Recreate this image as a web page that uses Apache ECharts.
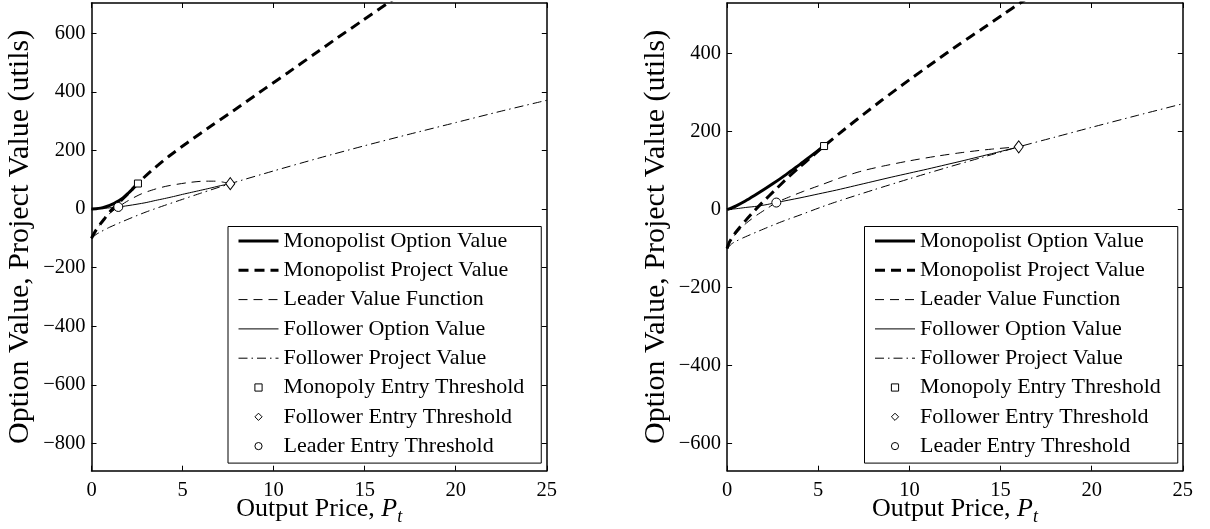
<!DOCTYPE html>
<html><head><meta charset="utf-8">
<script src="https://cdn.jsdelivr.net/npm/echarts@6/dist/echarts.min.js"></script>
<style>html,body{margin:0;padding:0;background:#fff}#c{width:1210px;height:529px}</style>
</head><body><div id="c"></div><script>
// ---------- data ----------
const seriesNames = ['Monopolist Option Value','Monopolist Project Value','Leader Value Function','Follower Option Value','Follower Project Value','Monopoly Entry Threshold','Follower Entry Threshold','Leader Entry Threshold'];
const xTicks = [0,5,10,15,20,25];
const yTicksLeft = [-800,-600,-400,-200,0,200,400,600];
const yTicksRight = [-600,-400,-200,0,200,400];
const yRangeLeft = [-893, 703];
const yRangeRight = [-670, 530];
const xLabel = 'Output Price, ';
const yLabel = 'Option Value, Project Value (utils)';

// left panel
const monoOptL = [[0,0],[0.25,0.8],[0.5,3],[0.75,7],[1,12.5],[1.25,19.5],[1.5,28],[1.75,39],[2,53],[2.25,68],[2.55,87]];
const monoProjL = [[0,-100],[0.1,-88],[0.25,-72],[0.5,-50],[0.75,-30],[1,-10],[1.5,21],[2,52],[2.55,88],[3.3,131],[4.25,180],[5.3,228],[6.7,289],[8.2,353],[9.5,410],[10.8,466],[12.2,527],[13.5,584],[14.9,644],[16.3,704],[17,734]];
const leaderL = [[0,-100],[0.1,-88],[0.25,-72],[0.5,-51],[0.75,-32],[1,-15],[1.25,-3],[1.47,7],[2,28],[2.75,52],[3.5,68],[4.2,79],[5.3,90],[6.2,95],[6.8,95],[7.2,92],[7.62,86.5]];
const followerOptL = [[0,0],[0.5,1.5],[1,4],[1.47,7],[2,11.5],[2.5,16.5],[3,22],[3.5,29],[4,35.5],[4.5,42.5],[5,50],[5.5,57],[6,64],[6.5,71],[7,78.5],[7.62,86.5]];
const followerProjL = [[0,-100],[0.25,-87],[0.5,-78],[1,-62],[2,-35],[3,-10],[4,12],[5,33],[6,54],[7.62,86.5],[10,130],[12.5,174],[15,216],[17.5,256],[20,295],[22.5,334],[25,371]];
const monoEntryL = [[2.55,87]];
const followerEntryL = [[7.62,86.5]];
const leaderEntryL = [[1.47,7]];

// right panel
const monoOptR = [[0,0],[0.25,4.2],[0.5,9.6],[1,22],[1.5,36],[2,50.6],[2.5,66],[3,82],[3.5,99],[4,116],[4.5,134],[5.32,163]];
const monoProjR = [[0,-100],[0.1,-86],[0.25,-74],[0.5,-57],[1,-29],[1.5,-3],[2,21],[2.65,51],[3.38,84],[4,110],[4.6,134],[5.32,163],[6.5,208],[7.5,245],[8.5,281],[10,333],[11.4,380],[12.7,423],[14,464],[15.1,499],[16.2,534],[17,558]];
const leaderR = [[0,-100],[0.1,-87],[0.25,-76],[0.5,-61],[1,-37],[1.64,-14],[2.2,3],[2.7,18],[3.5,34],[4.2,47],[5.2,64],[6.3,83],[7.4,99],[8.5,111],[10,125],[11.5,137],[13,147],[14.5,155],[16,161]];
const followerOptR = [[0,0],[0.5,2.2],[1,5.3],[1.64,8.5],[2.2,13],[2.7,18],[4,30],[5,40],[6,50],[7,61],[8,72],[9,83],[10,93.5],[11,104],[12,115],[13,126],[14,137.5],[15,149],[16,161]];
const followerProjR = [[0,-100],[0.25,-88],[0.5,-81],[1,-70],[2,-50],[3,-31],[4,-14],[5.2,7],[6,20],[8,50],[10,79],[12,107],[14,134],[16,161],[18,186],[20,211],[22.5,241.5],[25,271.5]];
const monoEntryR = [[5.32,163]];
const followerEntryR = [[16.0,161]];
const leaderEntryR = [[2.70,18]];

// ---------- chart ----------
const FONT = 'Liberation Serif, serif';
const BLACK = '#000';
function fmt(v){ return String(v).replace('-', '\u2212'); }

const grids = [
  {left:91.5, top:3, width:455.3, height:467.7, outerBoundsMode:'none', containLabel:false},
  {left:727.1, top:3, width:455.7, height:467.7, outerBoundsMode:'none', containLabel:false}
];

function xAxes(i){
  const line = {onZero:false, lineStyle:{color:BLACK, width:1.5}};
  const tick = {inside:true, length:5, lineStyle:{color:BLACK, width:1}};
  return [
    {type:'value', gridIndex:i, position:'bottom', min:xTicks[0], max:xTicks[xTicks.length-1], interval:5,
     axisLine:line, axisTick:tick, splitLine:{show:false},
     axisLabel:{color:BLACK, fontFamily:FONT, fontSize:20.5, margin:9},
     name:'{a|' + xLabel + '}{i|P}{s|t}', nameLocation:'middle', nameGap:24, nameMoveOverlap:false,
     nameTextStyle:{rich:{
       a:{fontFamily:FONT, fontSize:26, color:BLACK, lineHeight:28},
       i:{fontFamily:FONT, fontSize:26, fontStyle:'italic', color:BLACK, lineHeight:28},
       s:{fontFamily:FONT, fontSize:18, fontStyle:'italic', color:BLACK, lineHeight:28, verticalAlign:'bottom', padding:[0,0,-4,0]}
     }}},
    {type:'value', gridIndex:i, position:'top', min:xTicks[0], max:xTicks[xTicks.length-1], interval:5,
     axisLine:line, axisTick:tick, splitLine:{show:false}, axisLabel:{show:false}}
  ];
}
function yAxes(i, range, ticks){
  const line = {onZero:false, lineStyle:{color:BLACK, width:1.5}};
  return [
    {type:'value', gridIndex:i, position:'left', min:range[0], max:range[1],
     axisLine:line, axisTick:{inside:true, length:5, lineStyle:{color:BLACK, width:1}, customValues:ticks},
     axisLabel:{color:BLACK, fontFamily:FONT, fontSize:20.5, margin:6, formatter:fmt, customValues:ticks},
     splitLine:{show:false},
     name:yLabel, nameLocation:'middle', nameGap:56, nameMoveOverlap:false,
     nameTextStyle:{fontFamily:FONT, fontSize:30, color:BLACK}},
    {type:'value', gridIndex:i, position:'right', min:range[0], max:range[1],
     axisLine:line, axisTick:{inside:true, length:5, lineStyle:{color:BLACK, width:1}, customValues:ticks},
     axisLabel:{show:false}, splitLine:{show:false}}
  ];
}

function panel(i, d){
  const base = {type:'line', xAxisIndex:2*i, yAxisIndex:2*i, symbol:'none', smooth:0.25,
                itemStyle:{color:BLACK}, silent:true, animation:false};
  const mk = (name, data, symbol, size) => ({
    name, type:'line', xAxisIndex:2*i, yAxisIndex:2*i, data, symbol, symbolSize:size, showSymbol:true,
    itemStyle:{color:'#fff', borderColor:BLACK, borderWidth:1}, lineStyle:{opacity:0}, z:10, silent:true, animation:false
  });
  return [
    Object.assign({}, base, {name:seriesNames[0], data:d[0], lineStyle:{color:BLACK, width:3, type:'solid'}, z:5}),
    Object.assign({}, base, {name:seriesNames[1], data:d[1], lineStyle:{color:BLACK, width:3, type:[10,6]}, z:4}),
    Object.assign({}, base, {name:seriesNames[2], data:d[2], lineStyle:{color:BLACK, width:1, type:[9,6]}, z:3}),
    Object.assign({}, base, {name:seriesNames[3], data:d[3], lineStyle:{color:BLACK, width:1, type:'solid'}, z:3}),
    Object.assign({}, base, {name:seriesNames[4], data:d[4], lineStyle:{color:BLACK, width:1, type:[9,4,1.5,4]}, z:3}),
    mk(seriesNames[5], d[5], 'rect', 7),
    mk(seriesNames[6], d[6], 'diamond', [9,12]),
    mk(seriesNames[7], d[7], 'circle', 9)
  ];
}

const legendLineWidths = [3, 3, 1, 1, 1];
const legendLineTypes = ['solid', [10,6], [9,6], 'solid', [9,4,1.5,4]];
const legendData = seriesNames.map((n, k) => k < 5
  ? {name:n, itemStyle:{opacity:0}, lineStyle:{width:legendLineWidths[k], type:legendLineTypes[k], color:BLACK}}
  : {name:n, lineStyle:{opacity:0, width:0}, itemStyle:{color:'#fff', borderColor:BLACK, borderWidth:1}});

function legend(left){
  return {orient:'vertical', left:left, top:226.5, padding:[2.5,17,5,9], itemGap:5.3,
    itemWidth:40, itemHeight:9, borderColor:BLACK, borderWidth:1, backgroundColor:'#fff',
    selectedMode:false, data:legendData,
    textStyle:{fontFamily:FONT, fontSize:22, color:BLACK, lineHeight:24}};
}

const option = {
  animation:false,
  backgroundColor:'#fff',
  grid:grids,
  xAxis:[].concat(xAxes(0), xAxes(1)),
  yAxis:[].concat(yAxes(0, yRangeLeft, yTicksLeft), yAxes(1, yRangeRight, yTicksRight)),
  legend:[legend(228), legend(864.5)],
  series:[].concat(
    panel(0, [monoOptL, monoProjL, leaderL, followerOptL, followerProjL, monoEntryL, followerEntryL, leaderEntryL]),
    panel(1, [monoOptR, monoProjR, leaderR, followerOptR, followerProjR, monoEntryR, followerEntryR, leaderEntryR])
  )
};
const chart = echarts.init(document.getElementById('c'), null, {renderer:'canvas'});
chart.setOption(option);
</script></body></html>
